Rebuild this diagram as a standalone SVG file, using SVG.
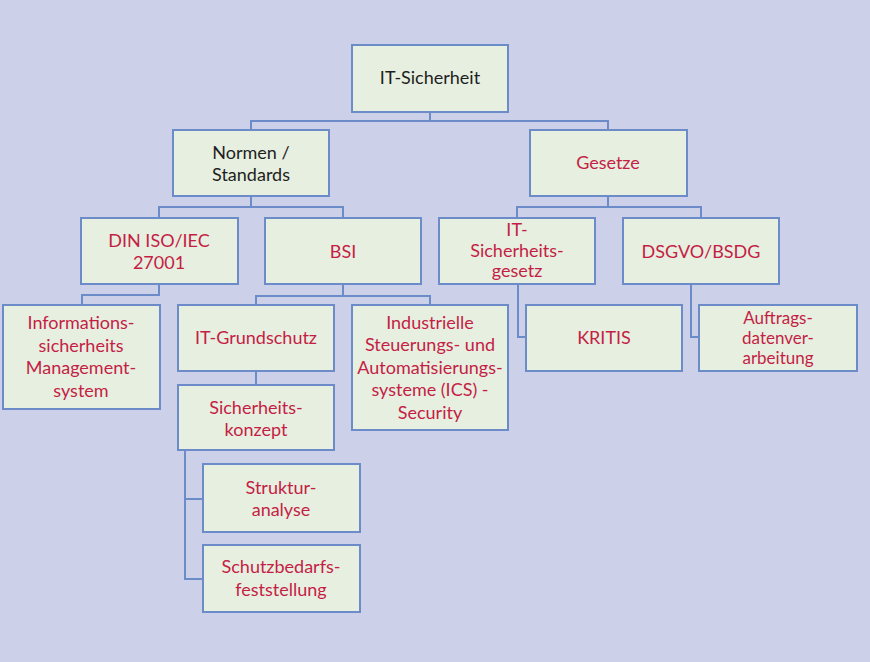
<svg xmlns="http://www.w3.org/2000/svg" width="870" height="662" viewBox="0 0 870 662">
<style>
.bg{fill:#ccd0e9}
.box{fill:#e7efe0;stroke:#6b8cc9;stroke-width:2}
.con{fill:none;stroke:#6b8cc9;stroke-width:2}
text{font-family:Lato,"Open Sans","Liberation Sans",sans-serif;font-size:18px;text-anchor:middle}
.r{fill:#c41e45}
.k{fill:#1e1e1e}
.s{font-size:17px}
</style>
<rect class="bg" x="0" y="0" width="870" height="662"/>
<g id="connectors">
<path class="con" d="M430,112 V121 M251,130 V121 H608 V130"/>
<path class="con" d="M251,196 V207 M159,218 V207 H343 V218"/>
<path class="con" d="M608,196 V207 M517,218 V207 H701 V218"/>
<path class="con" d="M159,284 V295 H82 V305"/>
<path class="con" d="M343,284 V296 M256,305 V296 H430 V305"/>
<path class="con" d="M256,371 V385"/>
<path class="con" d="M185,450 V579 H203 M185,499 H203"/>
<path class="con" d="M518,284 V337 H526"/>
<path class="con" d="M691,284 V337 H699"/>
</g>
<g id="it-sicherheit"><rect class="box" x="352" y="45" width="156" height="67"/><text class="k" x="430" y="84">IT-Sicherheit</text></g>
<g id="normen"><rect class="box" x="173" y="130" width="156" height="66"/><text class="k" x="251" y="159">Normen /</text><text class="k" x="251" y="181">Standards</text></g>
<g id="gesetze"><rect class="box" x="530" y="130" width="157" height="66"/><text class="r" x="608" y="169">Gesetze</text></g>
<g id="din"><rect class="box" x="81" y="218" width="157" height="66"/><text class="r" x="159" y="247">DIN ISO/IEC</text><text class="r" x="159" y="269">27001</text></g>
<g id="bsi"><rect class="box" x="265" y="218" width="156" height="66"/><text class="r" x="343" y="258">BSI</text></g>
<g id="itsg"><rect class="box" x="439" y="218" width="156" height="66"/><text class="r" x="517" y="236">IT-</text><text class="r" x="517" y="257">Sicherheits-</text><text class="r" x="517" y="277">gesetz</text></g>
<g id="dsgvo"><rect class="box" x="623" y="218" width="156" height="66"/><text class="r" x="701" y="258">DSGVO/BSDG</text></g>
<g id="isms"><rect class="box" x="3" y="305" width="157" height="104"/><text class="r" x="81" y="329">Informations-</text><text class="r" x="81" y="352">sicherheits</text><text class="r" x="81" y="374">Management-</text><text class="r" x="81" y="397">system</text></g>
<g id="grundschutz"><rect class="box" x="178" y="305" width="156" height="66"/><text class="r" x="256" y="344">IT-Grundschutz</text></g>
<g id="ics"><rect class="box" x="352" y="305" width="156" height="125"/><text class="r" x="430" y="329">Industrielle</text><text class="r" x="430" y="351">Steuerungs- und</text><text class="r" x="430" y="374">Automatisierungs-</text><text class="r" x="430" y="396">systeme (ICS) -</text><text class="r" x="430" y="419">Security</text></g>
<g id="kritis"><rect class="box" x="526" y="305" width="156" height="66"/><text class="r" x="604" y="344">KRITIS</text></g>
<g id="auftrag"><rect class="box" x="699" y="305" width="158" height="66"/><text class="r s" x="778" y="324">Auftrags-</text><text class="r s" x="778" y="344">datenver-</text><text class="r s" x="778" y="364">arbeitung</text></g>
<g id="konzept"><rect class="box" x="178" y="385" width="156" height="65"/><text class="r" x="256" y="414">Sicherheits-</text><text class="r" x="256" y="436">konzept</text></g>
<g id="struktur"><rect class="box" x="203" y="464" width="157" height="68"/><text class="r" x="281" y="494">Struktur-</text><text class="r" x="281" y="516">analyse</text></g>
<g id="schutzbedarf"><rect class="box" x="203" y="545" width="157" height="67"/><text class="r" x="281" y="573">Schutzbedarfs-</text><text class="r" x="281" y="596">feststellung</text></g>
</svg>
